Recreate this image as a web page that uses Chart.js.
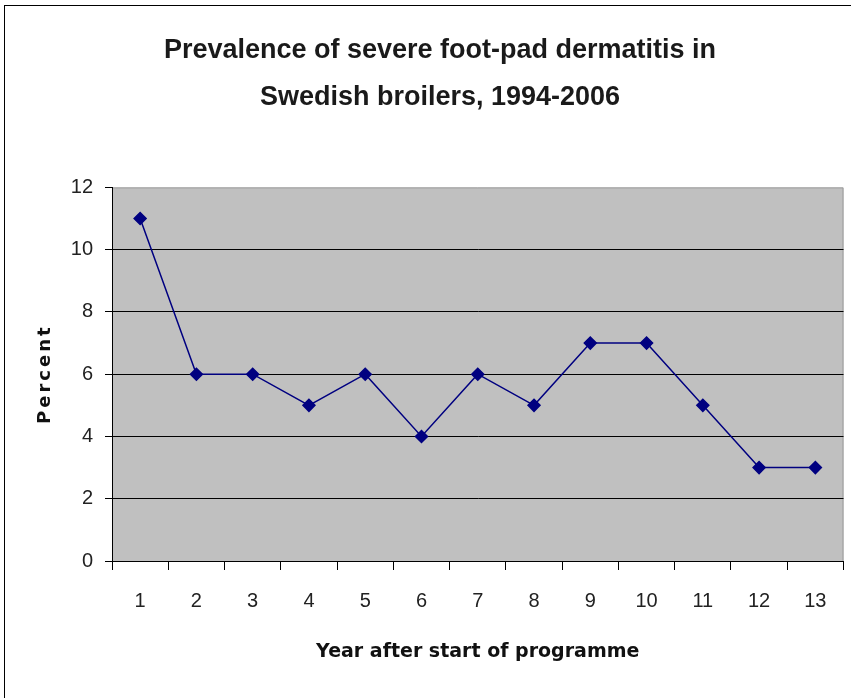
<!DOCTYPE html>
<html>
<head>
<meta charset="utf-8">
<script src="https://cdn.jsdelivr.net/npm/chart.js@4"></script>
<style>
  html, body { margin: 0; padding: 0; background: #fff; }
  #wrap { position: relative; width: 851px; height: 698px; }
</style>
</head>
<body>
<div id="wrap"><canvas id="chart" width="851" height="698"></canvas></div>
<script>
const years = ['1', '2', '3', '4', '5', '6', '7', '8', '9', '10', '11', '12', '13'];
const percent = [11, 6, 6, 5, 6, 4, 6, 5, 7, 7, 5, 3, 3];
const yTicks = [0, 2, 4, 6, 8, 10, 12];

// grey plot area + outer frame, Excel style
const frame = {
    id: 'frame',
    beforeDraw(chart) {
        const { ctx, chartArea: a } = chart;
        ctx.save();
        ctx.fillStyle = '#fff';
        ctx.fillRect(0, 0, chart.width, chart.height);
        ctx.strokeStyle = '#000';
        ctx.lineWidth = 1;
        ctx.strokeRect(4.5, 5.5, chart.width + 20, chart.height + 20);
        ctx.fillStyle = '#c0c0c0';
        ctx.fillRect(a.left, a.top, a.right - a.left, a.bottom - a.top);
        ctx.strokeStyle = '#9a9a9a';
        ctx.beginPath();
        ctx.moveTo(a.left, a.top + 0.5);
        ctx.lineTo(a.right - 0.5, a.top + 0.5);
        ctx.lineTo(a.right - 0.5, a.bottom);
        ctx.stroke();
        ctx.restore();

        // spaced-out "Percent" like the original
        const ys = chart.scales.y;
        if (ys && !ys._spaced) {
            const orig = ys.drawTitle.bind(ys);
            ys.drawTitle = function () {
                ys.ctx.save();
                ys.ctx.letterSpacing = '3px';
                orig();
                ys.ctx.restore();
            };
            ys._spaced = true;
        }
    }
};

new Chart(document.getElementById('chart').getContext('2d'), {
    type: 'line',
    data: {
        labels: years,
        datasets: [{
            label: 'Percent',
            data: percent,
            borderColor: '#000080',
            backgroundColor: '#000080',
            borderWidth: 1.5,
            pointStyle: 'rectRot',
            pointRadius: 6,
            pointHoverRadius: 6,
            tension: 0
        }]
    },
    options: {
        responsive: false,
        animation: false,
        layout: { padding: { left: 35, right: 6, top: 0, bottom: 35 } },
        plugins: {
            legend: { display: false },
            tooltip: { enabled: false },
            title: {
                display: true,
                text: ['Prevalence of severe foot-pad dermatitis in', 'Swedish broilers, 1994-2006'],
                color: '#1a1a1a',
                font: { family: "'Liberation Sans Narrow', 'Liberation Sans', Arial", size: 27, weight: 'bold', lineHeight: 1.73 },
                padding: { top: 27, bottom: 67 }
            }
        },
        scales: {
            x: {
                offset: true,
                afterFit: s => { s.height = 102; },
                grid: {
                    offset: true,
                    drawOnChartArea: false,
                    drawTicks: true,
                    tickLength: 9,
                    color: '#000',
                    tickColor: '#000'
                },
                border: { color: '#000', width: 1 },
                ticks: {
                    color: '#222',
                    padding: 19,
                    maxRotation: 0,
                    font: { family: "'Liberation Sans', Arial", size: 20 }
                },
                title: {
                    display: true,
                    text: 'Year after start of programme',
                    color: '#111',
                    padding: { top: 0, bottom: 0 },
                    font: { family: "'DejaVu Sans', Tahoma", size: 19, weight: 'bold' }
                }
            },
            y: {
                min: 0,
                max: 12,
                afterFit: s => { s.width = 77; },
                afterBuildTicks: s => { s.ticks = yTicks.map(v => ({ value: v })); },
                grid: {
                    color: ctx => (ctx.tick && ctx.tick.value === 12 ? 'rgba(0,0,0,0)' : '#000'),
                    tickColor: '#000',
                    tickLength: 7,
                    lineWidth: 1
                },
                border: { color: '#000', width: 1 },
                ticks: {
                    color: '#222',
                    padding: 12,
                    font: { family: "'Liberation Sans', Arial", size: 20 }
                },
                title: {
                    display: true,
                    text: 'Percent',
                    color: '#111',
                    padding: { top: 0, bottom: 0 },
                    font: { family: "'DejaVu Sans', Tahoma", size: 18, weight: 'bold' }
                }
            }
        }
    },
    plugins: [frame]
});
</script>
</body>
</html>
